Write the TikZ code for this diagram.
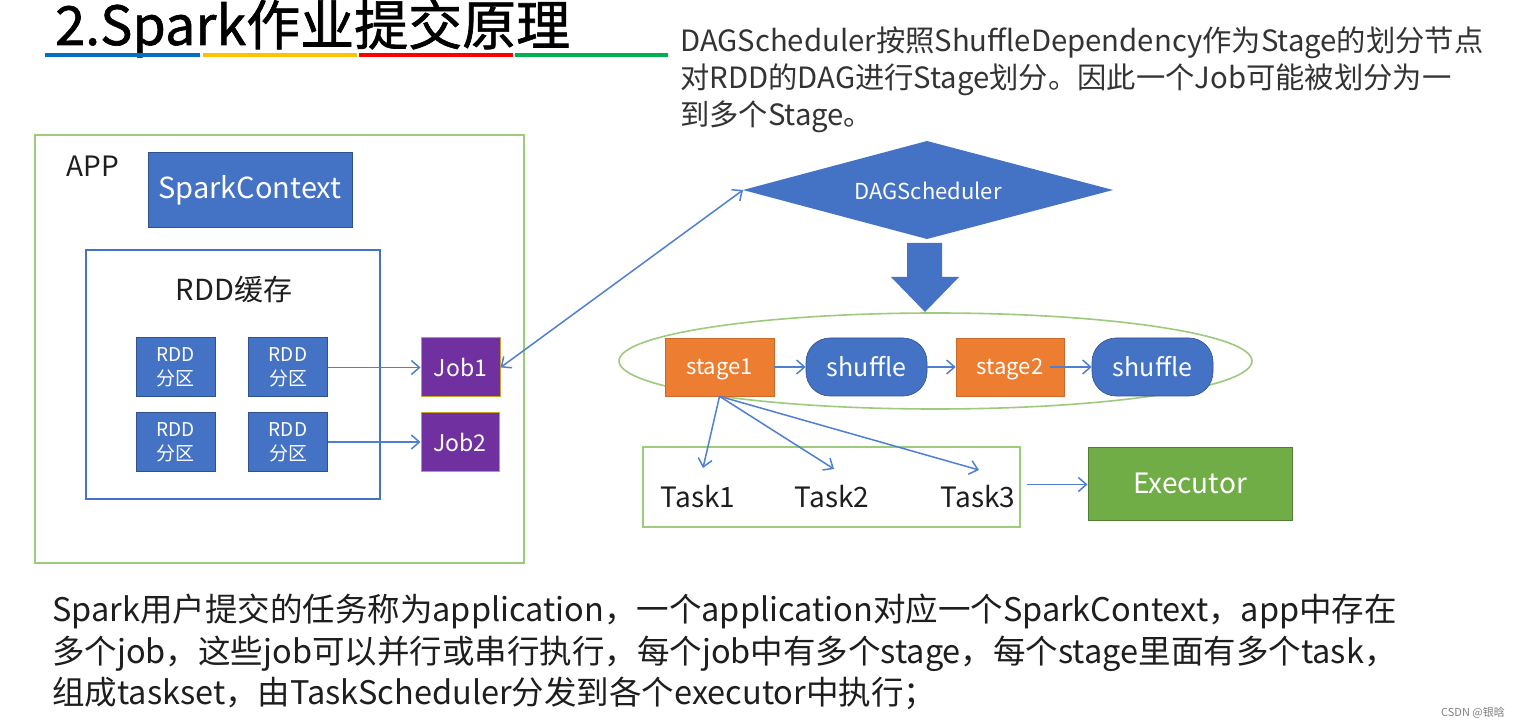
\documentclass[tikz,border=0pt]{standalone}
\usepackage{fontspec}
\setmainfont{Noto Sans CJK SC}
\usetikzlibrary{arrows.meta,shapes.geometric}
\definecolor{pblue}{HTML}{4472C4}
\definecolor{pblueD}{HTML}{2F528F}
\definecolor{pline}{HTML}{4F7FD0}
\definecolor{porange}{HTML}{ED7D31}
\definecolor{ppurple}{HTML}{7030A0}
\definecolor{pgold}{HTML}{C9A227}
\definecolor{pgreen}{HTML}{70AD47}
\definecolor{pgreenD}{HTML}{507E32}
\definecolor{lgreen}{HTML}{9CCB7E}
\definecolor{txt}{HTML}{1E1E1E}
\definecolor{txtg}{HTML}{333333}
\definecolor{ublue}{HTML}{0070C0}
\definecolor{uyellow}{HTML}{FFC000}
\definecolor{ured}{HTML}{FF0000}
\definecolor{ugreen}{HTML}{00B050}
\newcommand{\fsz}[2]{\fontsize{#1}{#2}\selectfont}
\begin{document}
\begin{tikzpicture}[x=1pt,y=-1pt,
  bluebox/.style={draw=pblueD,line width=1pt,fill=pblue,text=white,inner sep=0pt,align=center},
  stagebox/.style={draw=porange!85!black,line width=0.6pt,fill=porange,text=white,inner sep=0pt,minimum height=58pt,text height=15pt,text depth=1pt,font=\fsz{22}{26}},
  pill/.style={draw=pblueD,line width=0.6pt,fill=pblue,text=white,inner sep=0pt,rounded corners=24pt,minimum width=121pt,minimum height=58pt,font=\fsz{25}{30}},
  jobbox/.style={draw=pgold,line width=1pt,fill=ppurple,text=white,inner sep=0pt,font=\fsz{23}{27}},
  rddbox/.style={bluebox,minimum width=79pt,minimum height=59pt,font=\fsz{19}{24}},
  frame/.style={draw=lgreen,line width=1.6pt,inner sep=0pt},
  conn/.style={draw=pline,line width=1.5pt,-{Straight Barb[length=8pt,width=14pt]}},
  lbl/.style={text=txt,inner sep=0pt}]
\useasboundingbox[fill=white] (0,0) rectangle (1519,727);

% title
\node[anchor=base west,inner sep=0pt,font=\fsz{54}{60}\addfontfeatures{FakeBold=1.2}] (title) at (55,45) {2.Spark作业提交原理};
\draw[ublue,line width=4pt] (45,55) -- (200,55);
\draw[uyellow,line width=4pt] (203,55) -- (357,55);
\draw[ured,line width=4pt] (359,55) -- (513,55);
\draw[ugreen,line width=4pt] (515,55) -- (668,55);

% top right text
\node[anchor=base west,text=txtg,inner sep=0pt,font=\fsz{29.3}{37}] (t1) at (680,52) {DAGScheduler按照ShuffleDependency作为Stage的划分节点};
\node[anchor=base west,text=txtg,inner sep=0pt,font=\fsz{29.3}{37}] (t2) at (680,89) {对RDD的DAG进行Stage划分。因此一个Job可能被划分为一};
\node[anchor=base west,text=txtg,inner sep=0pt,font=\fsz{29.3}{37}] (t3) at (680,126) {到多个Stage。};

% APP frame
\node[frame,minimum width=489pt,minimum height=428pt] (app) at (279.5,349) {};
\node[lbl,font=\fsz{28}{32}] (applbl) at (92.5,166) {APP};
\node[bluebox,minimum width=204pt,minimum height=75pt,font=\fsz{29}{34}] (sc) at (250,190.5) {SparkContext};
\node[draw=pblue,line width=1.3pt,minimum width=294pt,minimum height=249pt,inner sep=0pt] (cache) at (233,374.5) {};
\node[lbl,font=\fsz{29}{34}] (cachelbl) at (234,290) {RDD缓存};
\node[rddbox] (r11) at (175.5,367.5) {RDD\\分区};
\node[rddbox] (r12) at (288,367.5) {RDD\\分区};
\node[rddbox] (r21) at (175.5,442) {RDD\\分区};
\node[rddbox] (r22) at (288,442) {RDD\\分区};
\node[jobbox,minimum width=79pt,minimum height=59pt] (job1) at (460.5,367.5) {Job1};
\node[jobbox,minimum width=78pt,minimum height=58pt] (job2) at (460,442) {Job2};
\draw[conn] (r12.east) -- (job1.west);
\draw[conn] (r22.east) -- (job2.west);

% DAGScheduler
\coordinate (dagW) at (743,190);
\coordinate (dagN) at (927,141);
\coordinate (dagE) at (1113,190);
\coordinate (dagS) at (927,239);
\fill[pblue] (dagW) -- (dagN) -- (dagE) -- (dagS) -- cycle;
\node[text=white,inner sep=0pt,font=\fsz{22}{26}] (dag) at (928,191) {DAGScheduler};
\draw[draw=pline,line width=1.5pt,{Straight Barb[length=8pt,width=14pt]}-{Straight Barb[length=8pt,width=14pt]}] (job1.east) -- (dagW);
\fill[pblue] (907,243) -- (942,243) -- (942,277) -- (959,277) -- (925,312) -- (891,277) -- (907,277) -- cycle;

% stages
\node[ellipse,draw=lgreen,line width=1.6pt,inner sep=0pt,minimum width=633pt,minimum height=96pt] (ell) at (935.5,361) {};
\node[stagebox,minimum width=109pt] (st1) at (719.5,367) {stage1};
\node[pill] (sh1) at (866.5,367) {shuffle};
\node[stagebox,minimum width=108pt] (st2) at (1010,367) {stage2};
\node[pill] (sh2) at (1152.5,367) {shuffle};
\coordinate (st2out) at (1050,367);
\draw[conn] (st1.east) -- (sh1.west);
\draw[conn] (sh1.east) -- (st2.west);
\draw[conn] (st2out) -- (sh2.west);

% tasks
\node[frame,minimum width=377pt,minimum height=80pt] (tbox) at (831.5,487) {};
\node[lbl,font=\fsz{28}{32}] (task1) at (698,497) {Task1};
\node[lbl,font=\fsz{28}{32}] (task2) at (832,497) {Task2};
\node[lbl,font=\fsz{28}{32}] (task3) at (978,497) {Task3};
\coordinate (a1) at (703,468);
\coordinate (a2) at (834,469);
\coordinate (a3) at (979,470);
\draw[conn] (st1.south) -- (a1);
\draw[conn] (st1.south) -- (a2);
\draw[conn] (st1.south) -- (a3);
\node[draw=pgreenD,line width=1pt,fill=pgreen,text=white,inner sep=0pt,minimum width=204pt,minimum height=73pt,font=\fsz{28}{32}] (exec) at (1190,483.5) {Executor};
\coordinate (tout) at (1027,484.5);
\draw[conn] (tout) -- (exec.west |- tout);

% bottom text
\node[anchor=base west,text=txt,inner sep=0pt,font=\fsz{32.5}{42}] (b1) at (52,621) {Spark用户提交的任务称为application，一个application对应一个SparkContext，app中存在};
\node[anchor=base west,text=txt,inner sep=0pt,font=\fsz{32.5}{42}] (b2) at (52,663) {多个job，这些job可以并行或串行执行，每个job中有多个stage，每个stage里面有多个task，};
\node[anchor=base west,text=txt,inner sep=0pt,font=\fsz{32.5}{42}] (b3) at (52,704) {组成taskset，由TaskScheduler分发到各个executor中执行；};

% watermark
\node[anchor=base east,text=gray,inner sep=0pt,font=\fsz{11}{13}] (wm) at (1505,716) {CSDN @银晗};
\end{tikzpicture}
\end{document}
